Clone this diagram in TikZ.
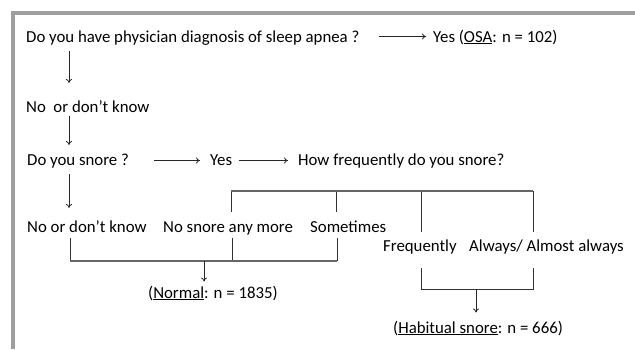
\documentclass[tikz,border=0pt]{standalone}
\usepackage{fontspec}
\setmainfont{Carlito}
\usetikzlibrary{arrows.meta}
\begin{document}
\begin{tikzpicture}[x=1pt,y=-1pt,
  txt/.style={anchor=base west, inner sep=0pt, font=\fontsize{16.8}{19}\selectfont},
  arr/.style={-{To[length=4pt,width=6pt]}, line width=0.8pt, draw=black!85},
  brk/.style={line width=0.8pt, draw=black!80},
  brkh/.style={line width=1.6pt, draw=black!60},
  frame/.style={line width=4pt, draw=black!38}]
\useasboundingbox (0,0) rectangle (635,349);
\draw[frame] (12.5,349) -- (12.5,13) -- (635,13);

\node[txt] (q1) at (26,42) {Do you have physician diagnosis of sleep apnea ?};
\node[txt] (yes1) at (433,42) {Yes (\underline{OSA}: n = 102)};
\node[txt] (no1) at (26,112) {No\ \ or don’t know};
\node[txt] (q2) at (27,165) {Do you snore ?};
\node[txt] (yes2) at (210,165) {Yes};
\node[txt] (q3) at (298,165) {How frequently do you snore?};
\node[txt] (no2) at (27,232) {No or don’t know};
\node[txt] (nsam) at (163,232) {No snore any more};
\node[txt] (some) at (310,232) {Sometimes};
\node[txt] (freq) at (383,251) {Frequently};
\node[txt] (alw) at (469,251) {Always/ Almost always};
\node[txt] (normal) at (148,298) {(\underline{Normal}: n = 1835)};
\node[txt] (habit) at (393,333) {(\underline{Habitual snore}: n = 666)};

% horizontal arrows
\draw[arr] ([xshift=19pt,yshift=5.5pt]q1.base east) -- ([xshift=-7pt,yshift=5.5pt]yes1.base west);
\draw[arr] ([xshift=25pt,yshift=4.5pt]q2.base east) -- ([xshift=-10pt,yshift=4.5pt]yes2.base west);
\draw[arr] ([xshift=7pt,yshift=4.5pt]yes2.base east) -- ([xshift=-10pt,yshift=4.5pt]q3.base west);
% vertical arrows
\draw[arr] ([xshift=43pt,yshift=-9pt]q1.base west) -- ([xshift=43pt,yshift=29pt]no1.base west);
\draw[arr] ([xshift=43pt,yshift=-4pt]no1.base west) -- ([xshift=42pt,yshift=20pt]q2.base west);
\draw[arr] ([xshift=42pt,yshift=-9pt]q2.base west) -- ([xshift=42pt,yshift=24pt]no2.base west);

% top bracket
\coordinate (t1) at (231,191);
\coordinate (t2) at (336,191);
\coordinate (t3) at (421,191);
\coordinate (t4) at (533,191);
\draw[brk] (t1) -- (231,212);
\draw[brk] (t2) -- (336,212);
\draw[brk] (t3) -- (421,232);
\draw[brk] (t4) -- (533,232);
\draw[brkh] (t1) -- (t4);

% normal bracket
\coordinate (n1) at (70,261);
\coordinate (n2) at (232,261);
\coordinate (n3) at (337,261);
\coordinate (nm) at (204,261);
\draw[brk] (70,238) -- (n1);
\draw[brk] (232,238) -- (n2);
\draw[brk] (337,238) -- (n3);
\draw[brkh, line width=1.2pt] (n1) -- (n3);
\draw[arr] (nm) -- ([yshift=4pt]normal.north -| nm);

% habitual bracket
\coordinate (h1) at (421,289);
\coordinate (h2) at (533,289);
\coordinate (hm) at (476,289);
\draw[brk] (421,268) -- (h1) -- (h2) -- (533,268);
\draw[arr] (hm) -- ([yshift=8pt]habit.north -| hm);
\end{tikzpicture}
\end{document}
